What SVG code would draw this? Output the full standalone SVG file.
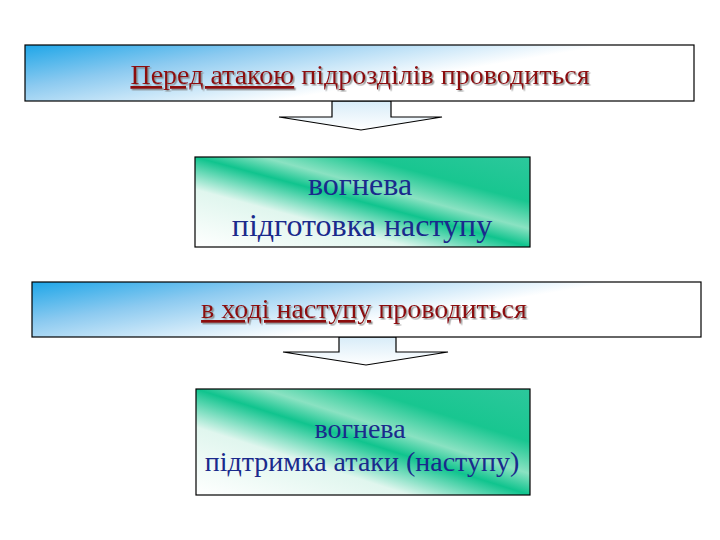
<svg xmlns="http://www.w3.org/2000/svg" width="720" height="540" viewBox="0 0 720 540">
<defs>
<linearGradient id="blue" x1="0" y1="0" x2="1" y2="0.5">
<stop offset="0" stop-color="#1ea6e8"/>
<stop offset="0.3" stop-color="#8ccaf0"/>
<stop offset="0.7" stop-color="#ffffff"/>
<stop offset="1" stop-color="#ffffff"/>
</linearGradient>
<linearGradient id="arrowg" x1="0" y1="0" x2="0" y2="1">
<stop offset="0" stop-color="#d8ecf8"/>
<stop offset="1" stop-color="#ffffff"/>
</linearGradient>
<linearGradient id="green" x1="0" y1="1" x2="1" y2="0">
<stop offset="0" stop-color="#ffffff"/>
<stop offset="0.32" stop-color="#e0f6ee"/>
<stop offset="0.5" stop-color="#10c48e"/>
<stop offset="0.6" stop-color="#8ae2c2"/>
<stop offset="0.75" stop-color="#18c690"/>
<stop offset="1" stop-color="#2cc89c"/>
</linearGradient>
<filter id="sh" x="-5%" y="-20%" width="110%" height="150%">
<feDropShadow dx="1.5" dy="1.5" stdDeviation="0.5" flood-color="#808080" flood-opacity="0.8"/>
</filter>
<style>
.box{stroke:#000;stroke-width:1.2}
.red{font-family:"Liberation Serif",serif;font-size:28px;fill:#8c0a10}
.navy{font-family:"Liberation Serif",serif;fill:#1a2a8c}
.arrow{fill:url(#arrowg);stroke:#000;stroke-width:1.2}
</style>
</defs>
<rect width="720" height="540" fill="#ffffff"/>
<g id="connectors">
<polygon class="arrow" points="332,101 391,101 391,117 442,117 361,130 279,117 332,117"/>
<polygon class="arrow" points="339,337 396,337 396,352 448,352 366,365 283,352 339,352"/>
</g>
<g id="n1">
<rect class="box" x="25" y="45" width="669" height="56" fill="url(#blue)"/>
<text class="red" x="360" y="84" text-anchor="middle" filter="url(#sh)"><tspan text-decoration="underline">Перед атакою</tspan> підрозділів проводиться</text>
</g>
<g id="n2">
<rect class="box" x="195" y="157" width="335" height="90" fill="url(#green)"/>
<text class="navy" font-size="32" text-anchor="middle"><tspan x="360" y="195">вогнева</tspan><tspan x="362" y="236">підготовка наступу</tspan></text>
</g>
<g id="n3">
<rect class="box" x="32" y="282" width="669" height="55" fill="url(#blue)"/>
<text class="red" x="364" y="318" text-anchor="middle" filter="url(#sh)"><tspan text-decoration="underline">в ході наступу</tspan> проводиться</text>
</g>
<g id="n4">
<rect class="box" x="196" y="389" width="334" height="106" fill="url(#green)"/>
<text class="navy" font-size="28" text-anchor="middle"><tspan x="360" y="438">вогнева</tspan><tspan x="362" y="471">підтримка атаки (наступу)</tspan></text>
</g>
</svg>
